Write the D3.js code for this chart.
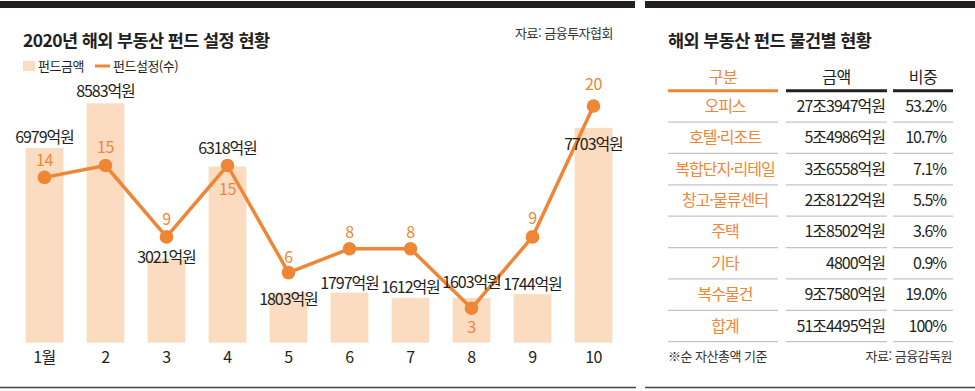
<!DOCTYPE html>
<html lang="ko">
<head>
<meta charset="utf-8">
<title>2020년 해외 부동산 펀드 설정 현황</title>
<style>
body { margin: 0; background: #fff; }
svg text { font-family: "Noto Sans CJK KR", "Noto Sans", sans-serif; fill: #231f20; }
.title { font-size: 17.5px; font-weight: 700; letter-spacing: -0.6px; }
.small { font-size: 13px; letter-spacing: -0.5px; fill: #333; }
.amt { font-size: 16px; letter-spacing: -1.1px; text-anchor: middle; }
.cnt { font-size: 16px; fill: #ef8636; text-anchor: middle; letter-spacing: -0.5px; }
.axis text { font-size: 16px; fill: #231f20; letter-spacing: -0.5px; }
.th { font-size: 16px; letter-spacing: -0.5px; }
.td { font-size: 16px; letter-spacing: -1px; }
</style>
</head>
<body>
<div id="chart"></div>
<script src="https://d3js.org/d3.v7.min.js"></script>
<script>
// monthly data (left chart)
var months = [1, 2, 3, 4, 5, 6, 7, 8, 9, 10];
var monthLabels = ["1월", "2", "3", "4", "5", "6", "7", "8", "9", "10"];
var fundAmount = [6979, 8583, 3021, 6318, 1803, 1797, 1612, 1603, 1744, 7703]; // 억원
var fundCount = [14, 15, 9, 15, 6, 8, 8, 3, 9, 20];

// table data (right panel)
var tblCats = ["오피스", "호텔·리조트", "복합단지·리테일", "창고·물류센터", "주택", "기타", "복수물건", "합계"];
var tblAmounts = [273947, 54986, 36558, 28122, 18502, 4800, 97580, 514495]; // 억원
var tblShares = [53.2, 10.7, 7.1, 5.5, 3.6, 0.9, 19.0, 100];

// label nudges so the labels don't sit on the line
var amtNudge = [-5, -6, 5, -12, 13, -4, -5, -10, -4, 22];
var cntNudge = [-11, -13, -12, 29, -10, -11, -11, 25, -13, -16];

var orange = "#ef8636";
var barColor = "#fcdcc1";

var svg = d3.select("#chart").append("svg")
    .attr("width", 975).attr("height", 391);

svg.append("rect").attr("width", 975).attr("height", 391).attr("fill", "#fff");

// panel frames
svg.append("rect").attr("x", 0).attr("y", 1).attr("width", 635).attr("height", 7).attr("fill", "#231f20");
svg.append("rect").attr("x", 645).attr("y", 1).attr("width", 330).attr("height", 7).attr("fill", "#231f20");
svg.append("line").attr("x1", 0).attr("x2", 636).attr("y1", 387.5).attr("y2", 387.5)
    .attr("stroke", "#444").attr("stroke-width", 1.5);
svg.append("line").attr("x1", 645).attr("x2", 975).attr("y1", 387.5).attr("y2", 387.5)
    .attr("stroke", "#444").attr("stroke-width", 1.5);

// ---- left chart ----
svg.append("text").attr("class", "title").attr("x", 23).attr("y", 47)
    .text("2020년 해외 부동산 펀드 설정 현황");
svg.append("text").attr("class", "small").attr("x", 613).attr("y", 38)
    .attr("text-anchor", "end").text("자료: 금융투자협회");

// legend
svg.append("rect").attr("x", 23).attr("y", 61).attr("width", 12).attr("height", 10).attr("fill", barColor);
svg.append("text").attr("class", "small").attr("x", 38).attr("y", 71).style("fill", "#231f20").text("펀드금액");
svg.append("line").attr("x1", 95).attr("x2", 110).attr("y1", 66).attr("y2", 66)
    .attr("stroke", orange).attr("stroke-width", 3);
svg.append("text").attr("class", "small").attr("x", 113).attr("y", 71).style("fill", "#231f20").text("펀드설정(수)");

var x = d3.scaleBand().domain(months).range([14, 624]).paddingInner(0.38).paddingOuter(0.19);
var yAmt = d3.scaleLinear().domain([0, 8583]).range([342.7, 103.3]);
var yCnt = d3.scaleLinear().domain([0, 20]).range([344, 106]);

var g = svg.append("g");

g.selectAll(".bar")
    .data(fundAmount)
    .enter()
    .append("rect")
    .attr("class", "bar")
    .attr("x", function(d, i) { return x(months[i]); })
    .attr("y", function(d) { return yAmt(d); })
    .attr("width", x.bandwidth())
    .attr("height", function(d) { return yAmt(0) - yAmt(d); })
    .attr("fill", barColor);

// month axis
g.append("g")
    .attr("class", "axis")
    .attr("transform", "translate(0," + yAmt(0) + ")")
    .call(d3.axisBottom(x).tickSize(0).tickPadding(9)
        .tickFormat(function(d, i) { return monthLabels[i]; }))
    .call(function(a) { a.select(".domain").remove(); })
    .selectAll("text").attr("font-family", null).attr("font-size", null);

// line
var line = d3.line()
    .x(function(d, i) { return x(months[i]) + x.bandwidth() / 2; })
    .y(function(d) { return yCnt(d); });

g.append("path")
    .datum(fundCount)
    .attr("d", line)
    .attr("fill", "none")
    .attr("stroke", orange)
    .attr("stroke-width", 3.5)
    .attr("stroke-linejoin", "round");

g.selectAll(".dot")
    .data(fundCount)
    .enter()
    .append("circle")
    .attr("class", "dot")
    .attr("cx", function(d, i) { return x(months[i]) + x.bandwidth() / 2; })
    .attr("cy", function(d) { return yCnt(d); })
    .attr("r", 6.8)
    .attr("fill", orange);

// amount labels
g.selectAll(".amt")
    .data(fundAmount)
    .enter()
    .append("text")
    .attr("class", "amt")
    .attr("x", function(d, i) { return x(months[i]) + x.bandwidth() / 2; })
    .attr("y", function(d, i) { return yAmt(d) + amtNudge[i]; })
    .text(function(d) { return d + "억원"; });

// count labels
g.selectAll(".cnt")
    .data(fundCount)
    .enter()
    .append("text")
    .attr("class", "cnt")
    .attr("x", function(d, i) { return x(months[i]) + x.bandwidth() / 2; })
    .attr("y", function(d, i) { return yCnt(d) + cntNudge[i]; })
    .text(function(d) { return d; });

// ---- right table ----
svg.append("text").attr("class", "title").attr("x", 668).attr("y", 47)
    .text("해외 부동산 펀드 물건별 현황");

var cols = [
    { name: "구분", x1: 668, x2: 778, color: orange },
    { name: "금액", x1: 786, x2: 887, color: "#231f20" },
    { name: "비중", x1: 893, x2: 953, color: "#231f20" }
];

var t = svg.append("g");

t.selectAll(".th")
    .data(cols)
    .enter()
    .append("text")
    .attr("class", "th")
    .attr("x", function(d) { return (d.x1 + d.x2) / 2; })
    .attr("y", 83)
    .attr("text-anchor", "middle")
    .style("fill", function(d) { return d.color; })
    .text(function(d) { return d.name; });

t.selectAll(".hline")
    .data(cols)
    .enter()
    .append("line")
    .attr("x1", function(d) { return d.x1; })
    .attr("x2", function(d) { return d.x2; })
    .attr("y1", 90.7).attr("y2", 90.7)
    .attr("stroke", function(d) { return d.color; })
    .attr("stroke-width", 3);

var row = d3.scaleBand().domain(tblCats).range([90.7, 341.7]);

function fmtAmount(v) {
    var jo = Math.floor(v / 10000), eok = v % 10000;
    return (jo > 0 ? jo + "조" : "") + eok + "억원";
}
function fmtShare(v) {
    return (v === 100 ? "100" : v.toFixed(1)) + "%";
}

var rows = t.selectAll(".row")
    .data(tblCats)
    .enter()
    .append("g")
    .attr("class", "row")
    .attr("transform", function(d) { return "translate(0," + row(d) + ")"; });

rows.append("text").attr("class", "td")
    .attr("x", 725).attr("y", row.bandwidth() / 2 + 5.5)
    .attr("text-anchor", "middle").style("fill", orange)
    .text(function(d) { return d; });

rows.append("text").attr("class", "td")
    .attr("x", 885).attr("y", row.bandwidth() / 2 + 5.5)
    .attr("text-anchor", "end")
    .text(function(d, i) { return fmtAmount(tblAmounts[i]); });

rows.append("text").attr("class", "td")
    .attr("x", 946).attr("y", row.bandwidth() / 2 + 5.5)
    .attr("text-anchor", "end")
    .text(function(d, i) { return fmtShare(tblShares[i]); });

cols.forEach(function(c) {
    rows.append("line")
        .attr("x1", c.x1).attr("x2", c.x2)
        .attr("y1", row.bandwidth()).attr("y2", row.bandwidth())
        .attr("stroke", "#c4c4c4").attr("stroke-width", 1.3);
});

svg.append("text").attr("class", "small").attr("x", 668).attr("y", 361).text("※순 자산총액 기준");
svg.append("text").attr("class", "small").attr("x", 952).attr("y", 361)
    .attr("text-anchor", "end").text("자료: 금융감독원");
</script>
</body>
</html>
